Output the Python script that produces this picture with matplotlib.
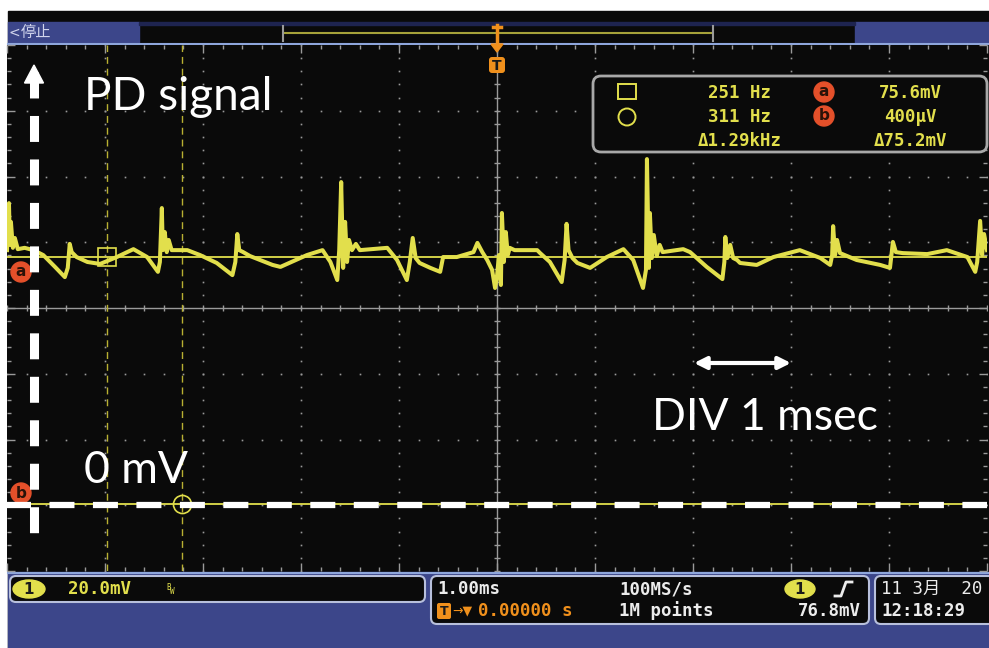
import numpy as np
import matplotlib.pyplot as plt
from matplotlib.patches import Rectangle, FancyBboxPatch, Circle, Ellipse, Polygon

plt.rcParams['lines.scale_dashes'] = False

# channel 1 trace: time in ms (0 = trigger), voltage in mV
t_ms = [-5.0, -4.98, -4.97, -4.96, -4.94, -4.92, -4.89, -4.82, -4.73, -4.63,
        -4.51, -4.41, -4.38, -4.36, -4.34, -4.29, -4.18, -4.05, -3.88, -3.71,
        -3.57, -3.46, -3.44, -3.42, -3.41, -3.39, -3.37, -3.35, -3.32, -3.16,
        -3.03, -2.86, -2.70, -2.67, -2.65, -2.63, -2.59, -2.52, -2.29, -2.21,
        -1.94, -1.78, -1.70, -1.63, -1.61, -1.59, -1.57, -1.55, -1.53, -1.51,
        -1.48, -1.44, -1.40, -1.12, -1.02, -0.92, -0.89, -0.86, -0.83, -0.79,
        -0.68, -0.58, -0.55, -0.41, -0.24, -0.20, -0.15, -0.10, -0.05, -0.02,
        0.0, 0.02, 0.04, 0.05, 0.07, 0.09, 0.11, 0.13, 0.18, 0.41,
        0.44, 0.54, 0.66, 0.69, 0.71, 0.73, 0.77, 0.82, 0.95, 1.12,
        1.29, 1.39, 1.49, 1.52, 1.53, 1.55, 1.56, 1.58, 1.60, 1.63,
        1.66, 1.69, 1.90, 1.97, 2.14, 2.30, 2.32, 2.33, 2.35, 2.38,
        2.41, 2.45, 2.48, 2.65, 2.82, 3.09, 3.30, 3.40, 3.42, 3.43,
        3.45, 3.47, 3.50, 3.67, 3.91, 4.01, 4.04, 4.07, 4.14, 4.39,
        4.59, 4.80, 4.88, 4.90, 4.93, 4.95, 4.97, 5.0]
v_mv = [77.6, 91.9, 79.2, 86.2, 78.3, 81.3, 77.9, 78.3, 77.6, 76.1,
        72.5, 69.4, 72.2, 79.5, 77.0, 75.5, 74.0, 73.4, 75.5, 77.9,
        75.5, 71.0, 74.0, 90.4, 77.6, 83.1, 77.0, 80.7, 77.6, 77.6,
        76.1, 73.7, 70.0, 74.0, 82.5, 77.6, 77.0, 75.8, 73.1, 72.5,
        76.1, 77.6, 74.0, 68.5, 77.6, 98.3, 72.2, 86.2, 74.0, 80.7,
        77.6, 79.5, 77.6, 78.3, 74.6, 68.5, 74.0, 81.3, 75.2, 73.7,
        72.2, 71.0, 75.5, 75.5, 77.0, 79.8, 77.0, 74.6, 71.6, 66.1,
        69.7, 76.1, 67.0, 88.9, 74.0, 83.1, 76.1, 78.3, 77.6, 77.6,
        76.7, 74.0, 67.9, 74.6, 85.6, 77.6, 75.2, 73.7, 72.2, 75.5,
        77.9, 74.6, 66.1, 71.6, 105.3, 72.2, 88.9, 75.2, 82.2, 75.8,
        79.2, 77.0, 77.9, 77.0, 72.5, 68.8, 74.0, 81.6, 75.2, 79.2,
        75.2, 74.6, 73.7, 73.1, 75.5, 77.6, 75.2, 73.1, 76.1, 84.9,
        76.1, 80.7, 76.7, 74.6, 73.1, 72.2, 80.1, 77.0, 76.7, 76.4,
        77.6, 75.5, 71.0, 74.0, 86.5, 76.1, 82.5, 77.6]

# cursors
cur_t = [-3.98, -3.215]   # ms
cur_v = [75.6, 0.4]       # mV

readout_left = ["251 Hz", "311 Hz", "\u03941.29kHz"]
readout_right = ["75.6mV", "400\u00b5V", "\u039475.2mV"]

W, H = 989, 648
BLACK = '#0a0a0a'
BLUE = '#3c468a'
EDGE = '#8ea6dc'
YEL = '#e2df4c'
CUR = '#b8b032'
ORANGE = '#f0901c'
RED = '#e4502a'
GRAY = '#9a9a9a'
TXT = '#ececec'
MONO = 'DejaVu Sans Mono'
CJK = ['Noto Sans CJK JP', 'DejaVu Sans']

fig = plt.figure(figsize=(W / 100, H / 100), dpi=100, facecolor='white')


def px_axes(z):
    a = fig.add_axes([0, 0, 1, 1], zorder=z)
    a.set_xlim(0, W)
    a.set_ylim(H, 0)
    a.axis('off')
    a.patch.set_alpha(0)
    return a


# ---- screen chrome (pixel coordinates) ----
bg = px_axes(0)
bg.add_patch(Rectangle((8, 11), W - 8, H - 11, color=BLACK))
bg.add_patch(Rectangle((8, 22), 131, 21, color=BLUE))
bg.add_patch(Rectangle((855, 22), W - 855, 21, color=BLUE))
bg.add_patch(Rectangle((139, 22), 716, 3, color='#1e2450'))
bg.plot([8, W], [43.5, 43.5], color=EDGE, lw=1.5)
bg.text(9, 33, '<', color='#d0d4ec', fontsize=10, va='center')
bg.text(21, 33, '停止', color='#d0d4ec', fontsize=11, family=CJK, va='center')
bg.plot([285, 711], [33, 33], color='#a6a23a', lw=1.5)
bg.plot([283, 283], [26, 41], color=GRAY, lw=1.5)
bg.plot([713, 713], [26, 41], color=GRAY, lw=1.5)
bg.plot([497, 497], [25, 46], color=ORANGE, lw=2.5)
bg.plot([493, 501], [27, 27], color=ORANGE, lw=2.5)

bg.add_patch(Rectangle((8, 572), W - 8, H - 572, color=BLUE))
bg.plot([8, W], [573, 573], color=EDGE, lw=1.5)

# ---- graticule / data axes ----
ax = fig.add_axes([7 / W, (H - 571) / H, 980 / W, 526 / H], zorder=1)
ax.set_facecolor(BLACK)
ax.set_xlim(-5, 5)
ax.set_ylim(-20, 140)
for s in ax.spines.values():
    s.set_visible(False)
ax.set_xticks(np.arange(-5, 5.01, 1))
ax.set_xticks(np.arange(-5, 5.01, 0.2), minor=True)
ax.set_yticks(np.arange(-20, 141, 20))
ax.set_yticks(np.arange(-20, 141, 4), minor=True)
ax.tick_params(which='both', direction='in', top=True, right=True,
               labelbottom=False, labelleft=False, colors=GRAY, width=1)
ax.tick_params(which='major', length=6)
ax.tick_params(which='minor', length=3)

xs = np.arange(-5, 5.01, 0.2)
ys = np.arange(-20, 140.1, 4)
for gx in [-4, -3, -2, -1, 1, 2, 3, 4]:
    ax.plot([gx] * len(ys), ys, ls='', marker='s', ms=1.2, color=GRAY, mew=0)
for gy in [0, 20, 40, 80, 100, 120]:
    ax.plot(xs, [gy] * len(xs), ls='', marker='s', ms=1.2, color=GRAY, mew=0)
ax.axvline(0, color=GRAY, lw=1)
ax.axhline(60, color=GRAY, lw=1)
ax.plot(xs, [60] * len(xs), ls='', marker='|', ms=5, color=GRAY)
ax.plot([0] * len(ys), ys, ls='', marker='_', ms=5, color=GRAY)

for ct in cur_t:
    ax.axvline(ct, color=CUR, lw=1, ls=(0, (5, 3.5)))
for cv in cur_v:
    ax.axhline(cv, color=YEL, lw=1.3, zorder=5)

ax.plot(t_ms, v_mv, color=YEL, lw=2.9, solid_joinstyle='round', zorder=4)
ax.plot([cur_t[0]], [cur_v[0]], marker='s', ms=13, mfc='none', mec=YEL, mew=1.2, zorder=6)
ax.plot([cur_t[1]], [cur_v[1]], marker='o', ms=13, mfc='none', mec=YEL, mew=1.2, zorder=6)

# ---- overlays (pixel coordinates) ----
fg = px_axes(3)

# trigger marker
fg.add_patch(Polygon([[491, 44], [503, 44], [497, 52]], color=ORANGE))
fg.add_patch(FancyBboxPatch((489, 57), 16, 16, boxstyle='round,pad=0,rounding_size=3',
                            fc=ORANGE, ec='none'))
fg.text(497, 65.5, 'T', color='#1a1a1a', fontsize=10, weight='bold', ha='center', va='center')

# channel level markers
for yy, lab in [(272, 'a'), (493, 'b')]:
    fg.add_patch(Circle((21, yy), 10, color=RED))
    fg.text(21, yy, lab, color='#2a1208', fontsize=11, weight='bold', ha='center', va='center')

# white hand-drawn annotations
fg.plot([34, 34], [72, 537], color='white', lw=6.5, ls=(0, (18.7, 12.6)), dash_capstyle='butt')
fg.add_patch(Polygon([[34, 65], [24.5, 83], [43.5, 83]], color='white'))
fg.plot([6, 987], [505, 505], color='white', lw=4.5, ls=(0, (18, 13.3)), dash_capstyle='butt')
fg.annotate('', xy=(791, 363), xytext=(694, 363),
            arrowprops=dict(arrowstyle='<|-|>', color='white', lw=3, mutation_scale=18,
                            shrinkA=0, shrinkB=0))
fg.text(84, 110, 'PD signal', color='white', fontsize=33, family='Lato', va='baseline')
fg.text(84, 483, '0 mV', color='white', fontsize=32, family='Lato', va='baseline')
fg.text(652, 430, 'DIV 1 msec', color='white', fontsize=32, family='Lato', va='baseline')

# cursor readout box
fg.add_patch(FancyBboxPatch((593, 76), 394, 76, boxstyle='round,pad=0,rounding_size=8',
                            fc=BLACK, ec='#a8a8a8', lw=2))
fg.add_patch(Rectangle((618, 84), 18, 15, fill=False, ec=YEL, lw=1.4))
fg.add_patch(Circle((627, 117), 8.5, fill=False, ec=YEL, lw=1.4))
for yy, lab in [(92, 'a'), (116, 'b')]:
    fg.add_patch(Circle((824, yy), 10, color=RED))
    fg.text(824, yy, lab, color='#2a1208', fontsize=11, weight='bold', ha='center', va='center')
for i, yy in enumerate([93, 117, 141]):
    fg.text(740, yy, readout_left[i], color=YEL, family=MONO, fontsize=12.5,
            weight='bold', ha='center', va='center')
    fg.text(910, yy, readout_right[i], color=YEL, family=MONO, fontsize=12.5,
            weight='bold', ha='center', va='center')

# bottom status boxes
for x0, w, h in [(10, 415, 26), (431, 438, 48), (875, 130, 48)]:
    fg.add_patch(FancyBboxPatch((x0, 576), w, h, boxstyle='round,pad=0,rounding_size=6',
                                fc=BLACK, ec='#b8c0dc', lw=1.5))
fg.add_patch(Ellipse((29, 589), 32, 18, color=YEL))
fg.text(29, 589, '1', color='#1a1a1a', fontsize=11, weight='bold', ha='center', va='center')
fg.text(68, 589, '20.0mV', color=YEL, family=MONO, fontsize=12.5, weight='bold', va='center')
fg.text(166, 587, 'B', color=YEL, family=MONO, fontsize=5.5, va='center')
fg.text(170, 591, 'W', color=YEL, family=MONO, fontsize=5.5, va='center')

fg.text(437, 589, '1.00ms', color=TXT, family=MONO, fontsize=12.5, weight='bold', va='center')
fg.text(619, 589, '100MS/s', color=TXT, family=MONO, fontsize=12.5, weight='bold', va='center')
fg.add_patch(Ellipse((800, 589), 30, 18, color=YEL))
fg.text(800, 589, '1', color='#1a1a1a', fontsize=11, weight='bold', ha='center', va='center')
fg.plot([835, 841, 846, 852], [596, 596, 582, 582], color=TXT, lw=2)

fg.add_patch(FancyBboxPatch((437, 603), 14, 16, boxstyle='round,pad=0,rounding_size=2',
                            fc=ORANGE, ec='none'))
fg.text(444, 611.5, 'T', color='#1a1a1a', fontsize=9, weight='bold', ha='center', va='center')
fg.text(452, 611, '\u2192\u25bc', color=ORANGE, family='DejaVu Sans', fontsize=9, va='center')
fg.text(478, 611, '0.00000 s', color=ORANGE, family=MONO, fontsize=12.5, weight='bold', va='center')
fg.text(619, 611, '1M points', color=TXT, family=MONO, fontsize=12.5, weight='bold', va='center')
fg.text(861, 611, '76.8mV', color=TXT, family=MONO, fontsize=12.5, weight='bold',
        ha='right', va='center')

fg.text(881, 589, '11 3月  20', color=TXT, family=['DejaVu Sans Mono', 'Noto Sans CJK JP'],
        fontsize=12.5, va='center')
fg.text(881, 611, '12:18:29', color=TXT, family=MONO, fontsize=12.5, weight='bold', va='center')

fig.savefig('out.png', dpi=100, facecolor='white')
